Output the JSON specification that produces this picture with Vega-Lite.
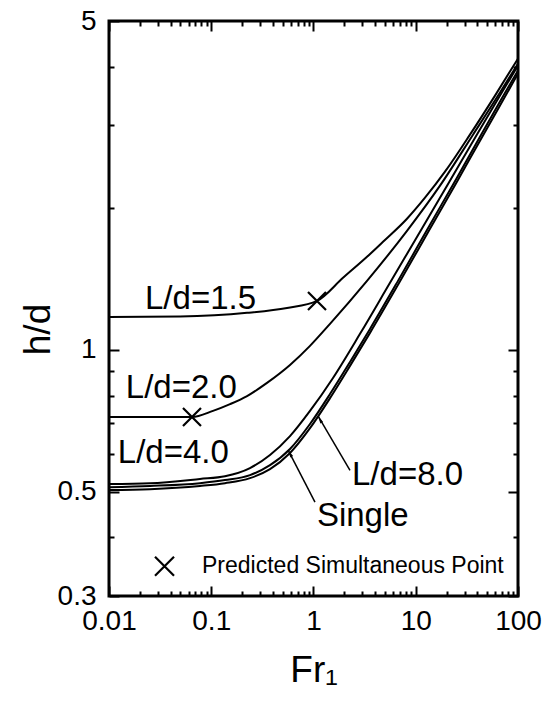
{
  "$schema": "https://vega.github.io/schema/vega-lite/v6.json",
  "width": 409,
  "height": 575,
  "autosize": "none",
  "padding": {"left": 109, "top": 21, "right": 26, "bottom": 105},
  "background": "white",
  "config": {
    "view": {"stroke": "black", "strokeWidth": 3},
    "font": "Liberation Sans"
  },
  "datasets": {
    "curves": [
      {"series": "1.5", "Fr": 0.01, "hd": 1.175},
      {"series": "1.5", "Fr": 0.0495, "hd": 1.178},
      {"series": "1.5", "Fr": 0.224, "hd": 1.199},
      {"series": "1.5", "Fr": 0.551, "hd": 1.228},
      {"series": "1.5", "Fr": 1.082, "hd": 1.271},
      {"series": "1.5", "Fr": 1.943, "hd": 1.423},
      {"series": "1.5", "Fr": 3.337, "hd": 1.577},
      {"series": "1.5", "Fr": 4.783, "hd": 1.697},
      {"series": "1.5", "Fr": 8.21, "hd": 1.9},
      {"series": "1.5", "Fr": 12.32, "hd": 2.106},
      {"series": "1.5", "Fr": 19.32, "hd": 2.392},
      {"series": "1.5", "Fr": 33.9, "hd": 2.867},
      {"series": "1.5", "Fr": 59.6, "hd": 3.471},
      {"series": "1.5", "Fr": 100, "hd": 4.16},
      {"series": "2.0", "Fr": 0.01, "hd": 0.72},
      {"series": "2.0", "Fr": 0.0648, "hd": 0.72},
      {"series": "2.0", "Fr": 0.104, "hd": 0.742},
      {"series": "2.0", "Fr": 0.1526, "hd": 0.767},
      {"series": "2.0", "Fr": 0.224, "hd": 0.798},
      {"series": "2.0", "Fr": 0.351, "hd": 0.851},
      {"series": "2.0", "Fr": 0.589, "hd": 0.929},
      {"series": "2.0", "Fr": 0.924, "hd": 1.02},
      {"series": "2.0", "Fr": 1.45, "hd": 1.136},
      {"series": "2.0", "Fr": 3.337, "hd": 1.402},
      {"series": "2.0", "Fr": 8.21, "hd": 1.791},
      {"series": "2.0", "Fr": 17.27, "hd": 2.234},
      {"series": "2.0", "Fr": 36.3, "hd": 2.867},
      {"series": "2.0", "Fr": 66.7, "hd": 3.523},
      {"series": "2.0", "Fr": 100, "hd": 4.06},
      {"series": "4.0", "Fr": 0.01, "hd": 0.519},
      {"series": "4.0", "Fr": 0.0252, "hd": 0.521},
      {"series": "4.0", "Fr": 0.0776, "hd": 0.532},
      {"series": "4.0", "Fr": 0.1363, "hd": 0.539},
      {"series": "4.0", "Fr": 0.2393, "hd": 0.561},
      {"series": "4.0", "Fr": 0.3755, "hd": 0.598},
      {"series": "4.0", "Fr": 0.589, "hd": 0.656},
      {"series": "4.0", "Fr": 0.924, "hd": 0.742},
      {"series": "4.0", "Fr": 1.551, "hd": 0.872},
      {"series": "4.0", "Fr": 2.85, "hd": 1.082},
      {"series": "4.0", "Fr": 5.6, "hd": 1.389},
      {"series": "4.0", "Fr": 11.77, "hd": 1.827},
      {"series": "4.0", "Fr": 21.6, "hd": 2.288},
      {"series": "4.0", "Fr": 40.62, "hd": 2.895},
      {"series": "4.0", "Fr": 66.7, "hd": 3.471},
      {"series": "4.0", "Fr": 100, "hd": 4.021},
      {"series": "8.0", "Fr": 0.01, "hd": 0.511},
      {"series": "8.0", "Fr": 0.0252, "hd": 0.514},
      {"series": "8.0", "Fr": 0.0776, "hd": 0.521},
      {"series": "8.0", "Fr": 0.1363, "hd": 0.529},
      {"series": "8.0", "Fr": 0.2393, "hd": 0.542},
      {"series": "8.0", "Fr": 0.3755, "hd": 0.569},
      {"series": "8.0", "Fr": 0.589, "hd": 0.616},
      {"series": "8.0", "Fr": 0.924, "hd": 0.696},
      {"series": "8.0", "Fr": 1.45, "hd": 0.806},
      {"series": "8.0", "Fr": 2.275, "hd": 0.943},
      {"series": "8.0", "Fr": 3.569, "hd": 1.108},
      {"series": "8.0", "Fr": 6.706, "hd": 1.402},
      {"series": "8.0", "Fr": 13.78, "hd": 1.845},
      {"series": "8.0", "Fr": 25.3, "hd": 2.323},
      {"series": "8.0", "Fr": 42.5, "hd": 2.839},
      {"series": "8.0", "Fr": 66.7, "hd": 3.371},
      {"series": "8.0", "Fr": 100, "hd": 3.924},
      {"series": "Single", "Fr": 0.01, "hd": 0.504},
      {"series": "Single", "Fr": 0.0252, "hd": 0.506},
      {"series": "Single", "Fr": 0.0776, "hd": 0.514},
      {"series": "Single", "Fr": 0.1363, "hd": 0.521},
      {"series": "Single", "Fr": 0.2393, "hd": 0.534},
      {"series": "Single", "Fr": 0.3755, "hd": 0.558},
      {"series": "Single", "Fr": 0.589, "hd": 0.604},
      {"series": "Single", "Fr": 0.924, "hd": 0.682},
      {"series": "Single", "Fr": 1.45, "hd": 0.79},
      {"series": "Single", "Fr": 2.275, "hd": 0.925},
      {"series": "Single", "Fr": 3.569, "hd": 1.087},
      {"series": "Single", "Fr": 6.706, "hd": 1.375},
      {"series": "Single", "Fr": 13.78, "hd": 1.809},
      {"series": "Single", "Fr": 25.3, "hd": 2.278},
      {"series": "Single", "Fr": 42.5, "hd": 2.784},
      {"series": "Single", "Fr": 66.7, "hd": 3.305},
      {"series": "Single", "Fr": 100, "hd": 3.867}
    ],
    "markers": [
      {"series": "1.5", "Fr": 1.082, "hd": 1.271},
      {"series": "2.0", "Fr": 0.0648, "hd": 0.72}
    ],
    "legendMarker": [
      {"Fr": 0.0349, "hd": 0.347}
    ],
    "legendText": [
      {"Fr": 0.0812, "hd": 0.3353, "text": "Predicted Simultaneous Point"}
    ],
    "labels": [
      {"Fr": 0.0225, "hd": 1.222, "text": "L/d=1.5"},
      {"Fr": 0.0146, "hd": 0.79, "text": "L/d=2.0"},
      {"Fr": 0.0122, "hd": 0.575, "text": "L/d=4.0"},
      {"Fr": 2.38, "hd": 0.516, "text": "L/d=8.0"},
      {"Fr": 1.08, "hd": 0.422, "text": "Single"}
    ],
    "arrows": [
      {"arrow": "8.0", "Fr": 2.275, "hd": 0.555, "Fr2": 1.107, "hd2": 0.724},
      {"arrow": "Single", "Fr": 1.034, "hd": 0.475, "Fr2": 0.563, "hd2": 0.613}
    ]
  },
  "resolve": {"axis": {"x": "independent", "y": "independent"}},
  "layer": [
    {
      "data": {"name": "curves"},
      "mark": {"type": "line", "color": "black", "strokeWidth": 2, "interpolate": "monotone", "clip": true},
      "encoding": {
        "x": {
          "field": "Fr", "type": "quantitative",
          "scale": {"type": "log", "domain": [0.01, 100], "nice": false},
          "axis": {
            "orient": "bottom",
            "values": [0.01,0.02,0.03,0.04,0.05,0.06,0.07,0.08,0.09,0.1,0.2,0.3,0.4,0.5,0.6,0.7,0.8,0.9,1,2,3,4,5,6,7,8,9,10,20,30,40,50,60,70,80,90,100],
            "format": "~g",
            "labelExpr": "abs(log(datum.value)/LN10 - round(log(datum.value)/LN10)) < 0.001 ? datum.label : ''",
            "labelFontSize": 28, "labelColor": "black", "labelPadding": 21,
            "labelOverlap": false, "labelFlush": false, "labelBound": false,
            "tickSize": {"condition": {"test": "abs(log(datum.value)/LN10 - round(log(datum.value)/LN10)) < 0.001", "value": -10}, "value": -5},
            "tickWidth": 2, "tickColor": "black",
            "domain": false, "grid": false,
            "title": "Fr\u2081", "titleFontSize": 37, "titleFontWeight": "normal", "titleColor": "black",
            "titleY": 85, "titleBaseline": "alphabetic"
          }
        },
        "y": {
          "field": "hd", "type": "quantitative",
          "scale": {"type": "log", "domain": [0.3, 5], "nice": false},
          "axis": {
            "orient": "left",
            "values": [0.3,0.4,0.5,0.6,0.7,0.8,0.9,1,2,3,4,5],
            "format": "~g",
            "labelExpr": "(abs(datum.value-0.3)<1e-6 || abs(datum.value-0.5)<1e-6 || abs(datum.value-1)<1e-6 || abs(datum.value-5)<1e-6) ? datum.label : ''",
            "labelFontSize": 28, "labelColor": "black", "labelPadding": 23,
            "labelOverlap": false, "labelFlush": false, "labelBound": false,
            "tickSize": {"condition": {"test": "abs(datum.value-0.5)<1e-6 || abs(datum.value-1)<1e-6 || abs(datum.value-0.3)<1e-6 || abs(datum.value-5)<1e-6", "value": -10}, "value": -5},
            "tickWidth": 2, "tickColor": "black",
            "domain": false, "grid": false,
            "title": "h/d", "titleFontSize": 37, "titleFontWeight": "normal", "titleColor": "black",
            "titleX": -60, "titleY": 308, "titleBaseline": "alphabetic", "titleAlign": "center", "titleAngle": -90
          }
        },
        "detail": {"field": "series", "type": "nominal"}
      }
    },
    {
      "data": {"name": "markers"},
      "mark": {"type": "point", "shape": "M-1,-1L1,1M-1,1L1,-1", "size": 324, "filled": false, "stroke": "black", "strokeWidth": 2.2, "opacity": 1},
      "encoding": {
        "x": {
          "field": "Fr", "type": "quantitative",
          "scale": {"type": "log", "domain": [0.01, 100], "nice": false},
          "axis": {
            "orient": "top",
            "values": [0.01,0.02,0.03,0.04,0.05,0.06,0.07,0.08,0.09,0.1,0.2,0.3,0.4,0.5,0.6,0.7,0.8,0.9,1,2,3,4,5,6,7,8,9,10,20,30,40,50,60,70,80,90,100],
            "labels": false, "title": null,
            "tickSize": {"condition": {"test": "abs(log(datum.value)/LN10 - round(log(datum.value)/LN10)) < 0.001", "value": -10}, "value": -5},
            "tickWidth": 2, "tickColor": "black",
            "domain": false, "grid": false
          }
        },
        "y": {
          "field": "hd", "type": "quantitative",
          "scale": {"type": "log", "domain": [0.3, 5], "nice": false},
          "axis": {
            "orient": "right",
            "values": [0.3,0.4,0.5,0.6,0.7,0.8,0.9,1,2,3,4,5],
            "labels": false, "title": null,
            "tickSize": {"condition": {"test": "abs(datum.value-0.5)<1e-6 || abs(datum.value-1)<1e-6 || abs(datum.value-0.3)<1e-6 || abs(datum.value-5)<1e-6", "value": -10}, "value": -5},
            "tickWidth": 2, "tickColor": "black",
            "domain": false, "grid": false
          }
        }
      }
    },
    {
      "data": {"name": "legendMarker"},
      "mark": {"type": "point", "shape": "M-1,-1L1,1M-1,1L1,-1", "size": 361, "filled": false, "stroke": "black", "strokeWidth": 2.2, "opacity": 1},
      "encoding": {
        "x": {"field": "Fr", "type": "quantitative", "scale": {"type": "log", "domain": [0.01, 100], "nice": false}, "axis": null},
        "y": {"field": "hd", "type": "quantitative", "scale": {"type": "log", "domain": [0.3, 5], "nice": false}, "axis": null}
      }
    },
    {
      "data": {"name": "legendText"},
      "mark": {"type": "text", "align": "left", "baseline": "alphabetic", "fontSize": 23, "color": "black", "font": "Liberation Sans"},
      "encoding": {
        "x": {"field": "Fr", "type": "quantitative", "scale": {"type": "log", "domain": [0.01, 100], "nice": false}, "axis": null},
        "y": {"field": "hd", "type": "quantitative", "scale": {"type": "log", "domain": [0.3, 5], "nice": false}, "axis": null},
        "text": {"field": "text"}
      }
    },
    {
      "data": {"name": "labels"},
      "mark": {"type": "text", "align": "left", "baseline": "alphabetic", "fontSize": 33, "color": "black", "font": "Liberation Sans"},
      "encoding": {
        "x": {"field": "Fr", "type": "quantitative", "scale": {"type": "log", "domain": [0.01, 100], "nice": false}, "axis": null},
        "y": {"field": "hd", "type": "quantitative", "scale": {"type": "log", "domain": [0.3, 5], "nice": false}, "axis": null},
        "text": {"field": "text"}
      }
    },
    {
      "data": {"name": "arrows"},
      "mark": {"type": "rule", "color": "black", "strokeWidth": 1.5},
      "encoding": {
        "x": {"field": "Fr", "type": "quantitative", "scale": {"type": "log", "domain": [0.01, 100], "nice": false}, "axis": null},
        "y": {"field": "hd", "type": "quantitative", "scale": {"type": "log", "domain": [0.3, 5], "nice": false}, "axis": null},
        "x2": {"field": "Fr2"},
        "y2": {"field": "hd2"}
      }
    },
    {
      "data": {"name": "arrows"},
      "mark": {"type": "point", "shape": "M0,0L-0.45,2.2L0.45,2.2Z", "size": 49, "filled": true, "color": "black", "opacity": 1, "angle": 331},
      "encoding": {
        "x": {"field": "Fr2", "type": "quantitative", "scale": {"type": "log", "domain": [0.01, 100], "nice": false}, "axis": null},
        "y": {"field": "hd2", "type": "quantitative", "scale": {"type": "log", "domain": [0.3, 5], "nice": false}, "axis": null}
      }
    }
  ]
}
